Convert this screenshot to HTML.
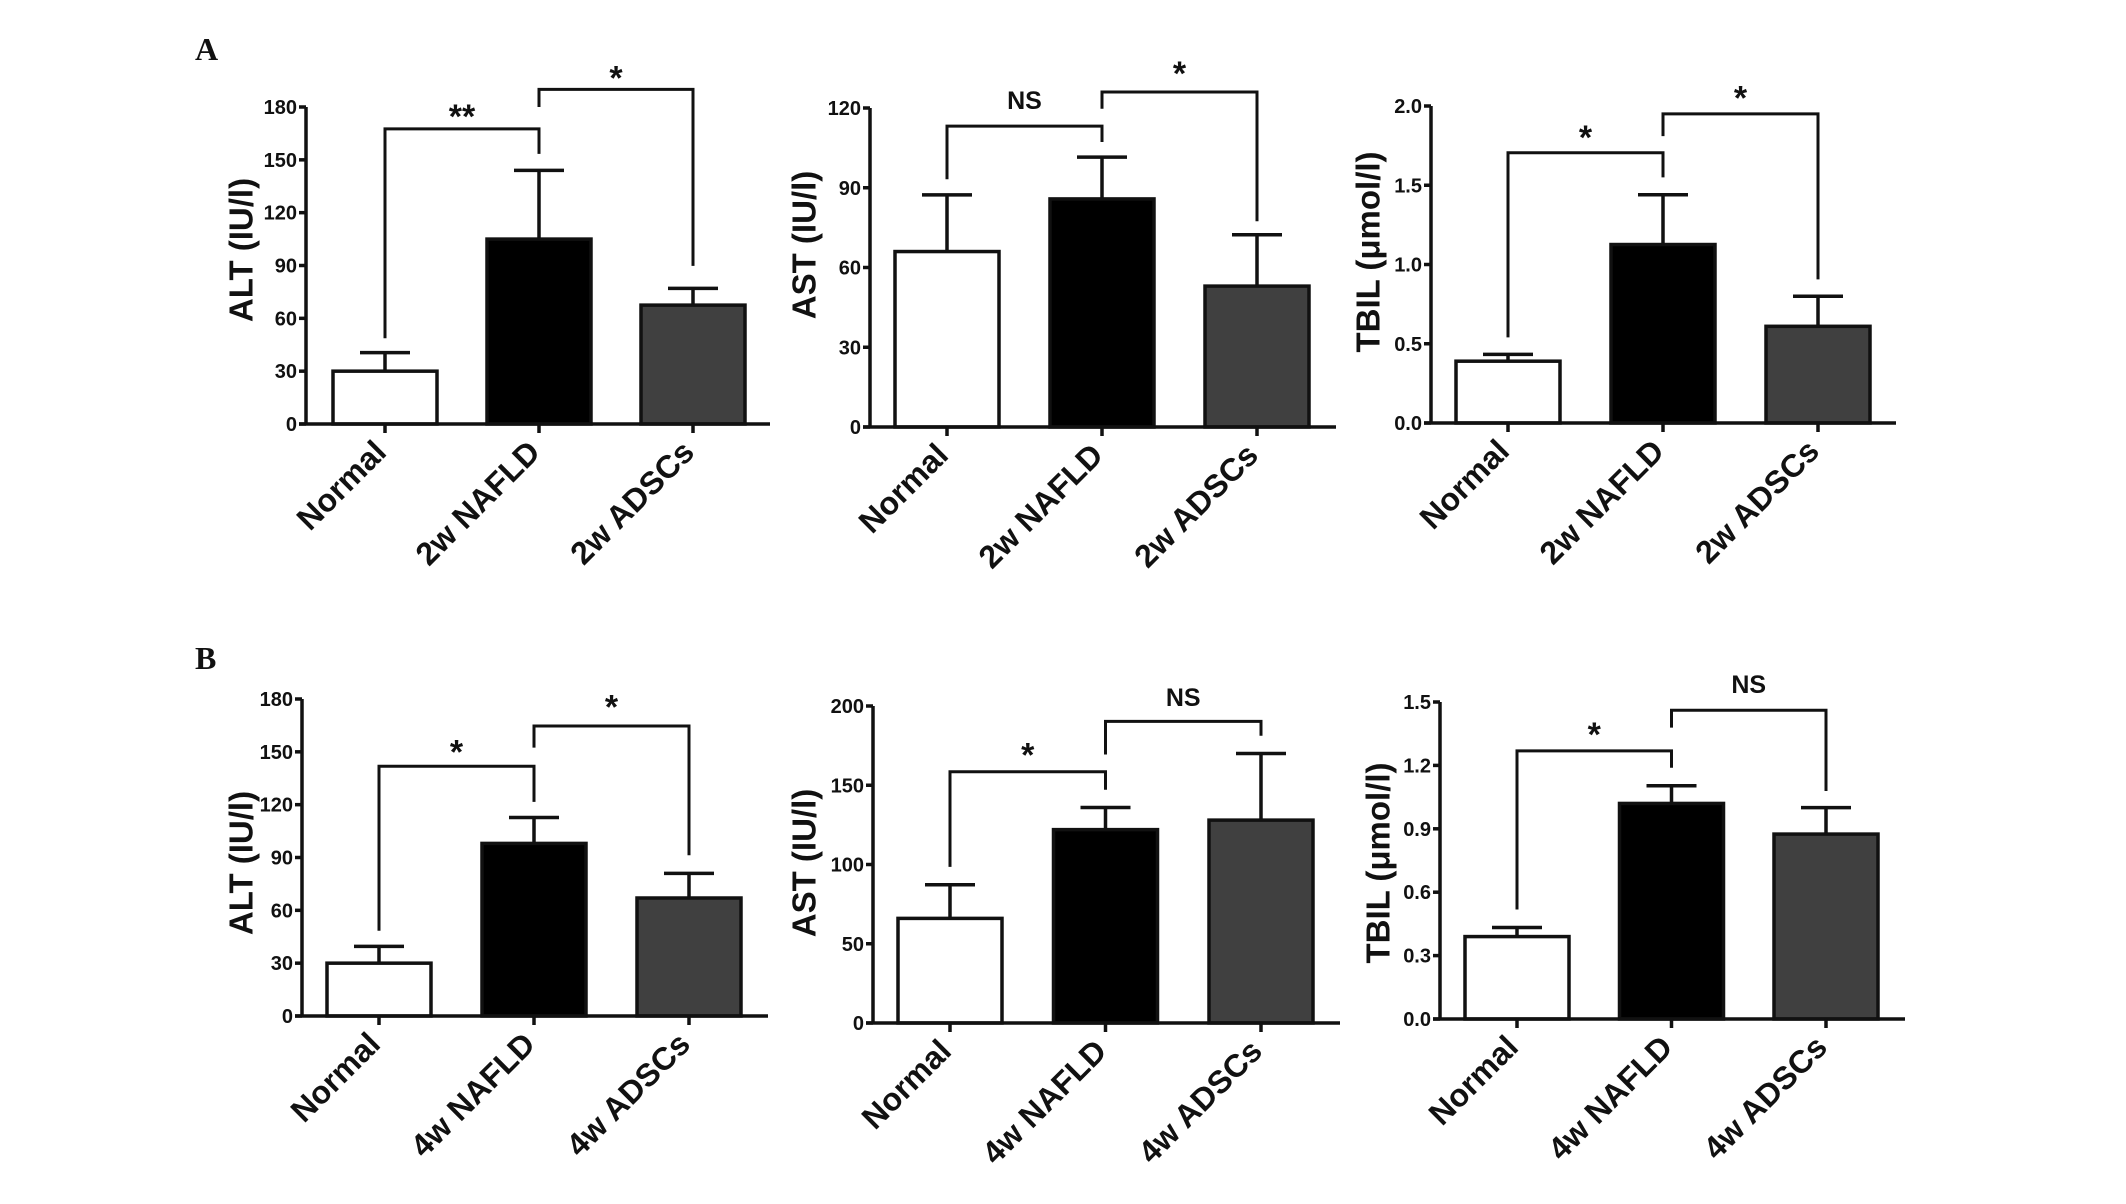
<!DOCTYPE html>
<html><head><meta charset="utf-8">
<style>
html,body{margin:0;padding:0;background:#fff;}
svg{display:block;}
text{font-family:"Liberation Sans",Arial,sans-serif;font-weight:bold;fill:#111;}
</style></head>
<body>
<svg id="fig" width="2126" height="1204" viewBox="0 0 2126 1204" xmlns="http://www.w3.org/2000/svg">
<text x="195" y="60" style="font-family:'Liberation Serif',serif;font-size:32px;">A</text>
<text x="195" y="669" style="font-family:'Liberation Serif',serif;font-size:32px;">B</text>
</svg>
<script>
// ---- data ----
const catsA = ["Normal","2w NAFLD","2w ADSCs"];
const catsB = ["Normal","4w NAFLD","4w ADSCs"];
const fills = ["#ffffff","#000000","#404040"];

const a1Values = [30, 105, 67.5];
const a1Errors = [40.5, 144, 77];
const a1Ticks = ["0","30","60","90","120","150","180"];
const a2Values = [66, 85.8, 53];
const a2Errors = [87.3, 101.5, 72.3];
const a2Ticks = ["0","30","60","90","120"];
const a3Values = [0.39, 1.126, 0.61];
const a3Errors = [0.433, 1.44, 0.80];
const a3Ticks = ["0.0","0.5","1.0","1.5","2.0"];
const b1Values = [30, 98, 67];
const b1Errors = [39.5, 112.7, 81];
const b1Ticks = ["0","30","60","90","120","150","180"];
const b2Values = [66, 122, 128];
const b2Errors = [87.2, 136, 170];
const b2Ticks = ["0","50","100","150","200"];
const b3Values = [0.39, 1.02, 0.875];
const b3Errors = [0.433, 1.104, 1.0];
const b3Ticks = ["0.0","0.3","0.6","0.9","1.2","1.5"];

// brackets: [leftIdx, rightIdx, barY, leftLegBottom, rightLegBottom, label, labelCenter]
const a1Brackets = [[0,1,167.6,48.7,153.4,"**",179],[1,2,190,180,89.8,"*",201]];
const a2Brackets = [[0,1,113.2,93.2,107.2,"NS",123],[1,2,126,119.7,77.4,"*",136]];
const a3Brackets = [[0,1,1.705,0.54,1.55,"*",1.85],[1,2,1.95,1.81,0.906,"*",2.10]];
const b1Brackets = [[0,1,141.8,48.4,121.6,"*",154.5],[1,2,164.7,152.4,91.3,"*",180]];
const b2Brackets = [[0,1,158.5,98.5,147.2,"*",174],[1,2,190.3,169.4,181.2,"NS",205.7]];
const b3Brackets = [[0,1,1.269,0.518,1.189,"*",1.384],[1,2,1.461,1.379,1.079,"NS",1.585]];

const NS = "http://www.w3.org/2000/svg";
const svg = document.getElementById('fig');
function mk(tag, attrs, parent){
  const e = document.createElementNS(NS, tag);
  for (const k in attrs) e.setAttribute(k, attrs[k]);
  (parent||svg).appendChild(e);
  return e;
}

function panel(id, cfg, cats, values, errors, ticks, brackets){
  const g = mk('g', {});
  
  
  const ymax = parseFloat(ticks[ticks.length-1]);
  const y = v => cfg.y0 - (v / ymax) * (cfg.y0 - cfg.yTop);
  const bw = cfg.barW;
  const cx = i => cfg.bar0 + bw/2 + i * cfg.step;
  values.forEach((v,i)=>{
    const er = mk('line', {x1:cx(i), x2:cx(i), y1:y(v), y2:y(errors[i]), stroke:'#111','stroke-width':3.5}, g);
    
    
    const cap = mk('line', {x1:cx(i)-25, x2:cx(i)+25, y1:y(errors[i]), y2:y(errors[i]), stroke:'#111','stroke-width':3.5}, g);
    
    
    const r = mk('rect', {x:cx(i)-bw/2, y:y(v), width:bw, height:cfg.y0 - y(v), fill:fills[i], stroke:'#111','stroke-width':3.5}, g);
    
    
  });
  const ya = mk('line', {x1:cfg.ax, x2:cfg.ax, y1:cfg.yTop, y2:cfg.y0+1.5, stroke:'#111','stroke-width':3.5}, g);
  
  
  const xa = mk('line', {x1:cfg.ax-7, x2:cfg.axEnd, y1:cfg.y0, y2:cfg.y0, stroke:'#111','stroke-width':3.5}, g);
  
  
  ticks.forEach(t=>{
    const yy = y(parseFloat(t));
    mk('line', {x1:cfg.ax-7, x2:cfg.ax, y1:yy, y2:yy, stroke:'#111','stroke-width':3.5}, g);
    const tl = mk('text', {x:cfg.ax-9, y:yy+7, 'text-anchor':'end', 'font-size':20}, g);
    tl.textContent = t;
    
    
  });
  cats.forEach((c,i)=>{
    mk('line', {x1:cx(i), x2:cx(i), y1:cfg.y0, y2:cfg.y0+9, stroke:'#111','stroke-width':3.5}, g);
    const px = cx(i)+3, py = cfg.y0+30;
    const tl = mk('text', {x:px, y:py, 'text-anchor':'end', 'font-size':32, transform:`rotate(-45 ${px} ${py})`}, g);
    tl.textContent = c;
    
    
  });
  const tt = mk('text', {x:cfg.tx, y:cfg.ty, 'text-anchor':'middle', 'font-size':33, transform:`rotate(-90 ${cfg.tx} ${cfg.ty})`, 'dominant-baseline':'central'}, g);
  tt.textContent = cfg.title;
  
  
  brackets.forEach((b,k)=>{
    const xl = cx(b[0]), xr = cx(b[1]);
    const p = mk('polyline', {points:`${xl},${y(b[3])} ${xl},${y(b[2])} ${xr},${y(b[2])} ${xr},${y(b[4])}`, fill:'none', stroke:'#111','stroke-width':3}, g);
    
    
    const isStar = b[5].indexOf('*') >= 0;
    const fs = isStar ? 34 : 25;
    const ly = isStar ? y(b[6]) + 0.57*fs : y(b[6]) + 0.36*fs;
    const lt = mk('text', {x:(xl+xr)/2, y:ly, 'text-anchor':'middle', 'font-size':fs}, g);
    lt.textContent = b[5];
    
    
  });
}

panel('a-alt', {ax:306, axEnd:770, y0:424, yTop:107, bar0:333, barW:104, step:154, tx:241, ty:250, title:'ALT (IU/l)'}, catsA, a1Values, a1Errors, a1Ticks, a1Brackets);
panel('a-ast', {ax:870, axEnd:1336, y0:427, yTop:108, bar0:895, barW:104, step:155, tx:804, ty:245, title:'AST (IU/l)'}, catsA, a2Values, a2Errors, a2Ticks, a2Brackets);
panel('a-tbil', {ax:1431, axEnd:1896, y0:423, yTop:106, bar0:1456, barW:104, step:155, tx:1368, ty:252, title:'TBIL (μmol/l)'}, catsA, a3Values, a3Errors, a3Ticks, a3Brackets);
panel('b-alt', {ax:302, axEnd:768, y0:1016, yTop:699, bar0:327, barW:104, step:155, tx:241, ty:863, title:'ALT (IU/l)'}, catsB, b1Values, b1Errors, b1Ticks, b1Brackets);
panel('b-ast', {ax:873, axEnd:1340, y0:1023, yTop:706, bar0:898, barW:104, step:155.5, tx:804, ty:863, title:'AST (IU/l)'}, catsB, b2Values, b2Errors, b2Ticks, b2Brackets);
panel('b-tbil', {ax:1440, axEnd:1905, y0:1019, yTop:702, bar0:1465, barW:104, step:154.5, tx:1378, ty:863, title:'TBIL (μmol/l)'}, catsB, b3Values, b3Errors, b3Ticks, b3Brackets);
</script>
</body></html>
